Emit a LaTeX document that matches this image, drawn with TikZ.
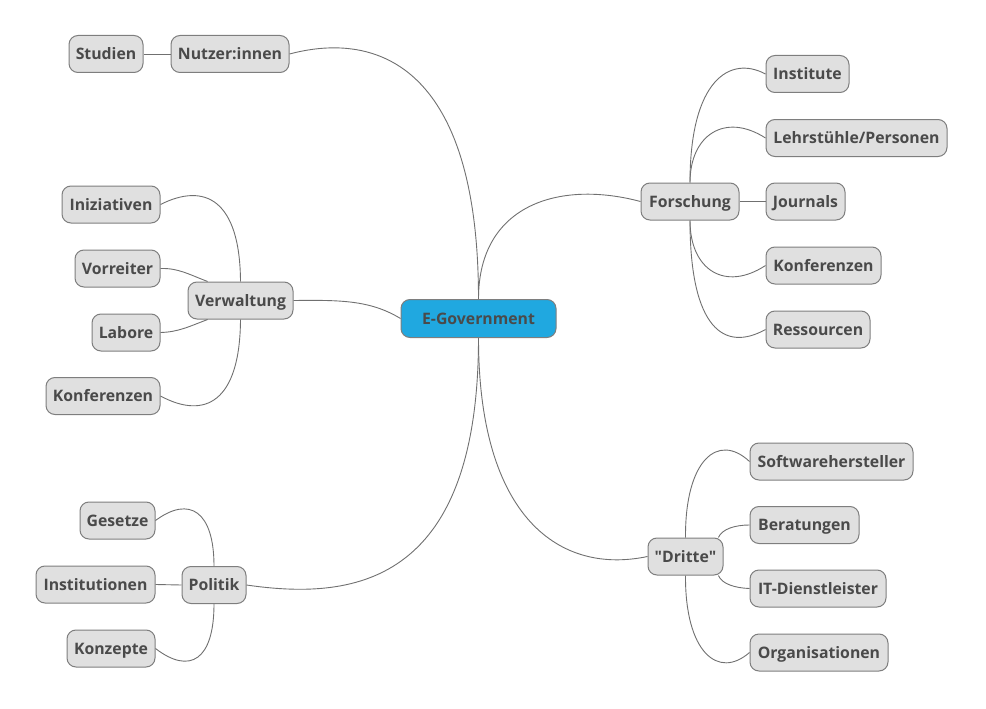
\documentclass[tikz,border=0pt]{standalone}
\usepackage{fontspec}
\setmainfont{Open Sans}
\usetikzlibrary{calc}
\definecolor{boxfill}{HTML}{E0E0E0}
\definecolor{boxline}{HTML}{7E7E7E}
\definecolor{txt}{HTML}{4A4A4A}
\definecolor{wire}{HTML}{707070}
\definecolor{rootfill}{HTML}{20A8E0}
% straight double quote, set as a glyph so no text mapping touches it
\newcommand{\straightquote}{\XeTeXglyph\XeTeXcharglyph"0022\relax}
\begin{document}
\begin{tikzpicture}[x=1pt,y=-1pt,
  topic/.style={draw=boxline,fill=boxfill,line width=1pt,rounded corners=9pt,
    minimum height=37pt,inner sep=0pt,text height=11.3pt,text depth=0pt,
    text=txt,font=\fontsize{15.8}{18}\selectfont\bfseries},
  root/.style={topic,fill=rootfill,minimum height=38pt},
  link/.style={draw=wire,line width=0.9pt}]
\useasboundingbox (0,0) rectangle (986,709);

% central topic
\node[root,minimum width=155pt] (eg) at (478.5,318.5) {E-Government};

% main branches
\node[topic,minimum width=118pt] (nutzer) at (230,54) {Nutzer:innen};
\node[topic,minimum width=98pt] (forsch) at (690,201.5) {Forschung};
\node[topic,minimum width=105pt] (verw) at (240.5,300.5) {Verwaltung};
\node[topic,minimum width=64pt] (pol) at (214,585) {Politik};
\node[topic,minimum width=75pt] (dritte) at (685.5,556.5) {\straightquote Dritte\straightquote};

% Nutzer:innen
\node[topic,minimum width=74pt] (studien) at (106,54) {Studien};

% Forschung
\node[topic,minimum width=83pt] (inst) at (807.5,74) {Institute};
\node[topic,minimum width=181pt] (lehr) at (856.5,138) {Lehrstühle/Personen};
\node[topic,minimum width=79pt] (journ) at (805.5,201.5) {Journals};
\node[topic,minimum width=115pt] (konfr) at (823.5,265.5) {Konferenzen};
\node[topic,minimum width=104pt] (ress) at (818,329.5) {Ressourcen};

% Verwaltung
\node[topic,minimum width=98pt] (iniz) at (111,204.5) {Iniziativen};
\node[topic,minimum width=85pt] (vorr) at (117.5,268.5) {Vorreiter};
\node[topic,minimum width=68pt] (labore) at (126,332.5) {Labore};
\node[topic,minimum width=114pt] (konfl) at (103,396) {Konferenzen};

% Politik
\node[topic,minimum width=75pt] (ges) at (117.5,520.5) {Gesetze};
\node[topic,minimum width=119pt] (instit) at (95.5,584.5) {Institutionen};
\node[topic,minimum width=88pt] (konz) at (111,648.5) {Konzepte};

% "Dritte"
\node[topic,minimum width=163pt] (soft) at (831.5,461.5) {Softwarehersteller};
\node[topic,minimum width=109pt] (berat) at (804.5,525) {Beratungen};
\node[topic,minimum width=136pt] (itd) at (818,588.5) {IT-Dienstleister};
\node[topic,minimum width=138pt] (orga) at (819,652.5) {Organisationen};

% connectors from the central topic
\draw[link] (eg.north) .. controls ($(eg.north)+(0,-230)$) and (380,30) .. (nutzer.east);
\draw[link] (eg.north) .. controls ($(eg.north)+(0,-95)$) and (560,180) .. (forsch.west);
\draw[link] (eg.west) .. controls (370,300) and (340,300) .. (verw.east);
\draw[link] (eg.south) .. controls ($(eg.south)+(0,250)$) and (350,600) .. (pol.east);
\draw[link] (eg.south) .. controls ($(eg.south)+(0,180)$) and (560,575) .. (dritte.west);

% Nutzer:innen
\draw[link] (nutzer.west) -- (studien.east);

% Forschung
\draw[link] (forsch.north) .. controls (690,80) and (730,55) .. (inst.west);
\draw[link] (forsch.north) .. controls (690,135) and (725,112) .. (lehr.west);
\draw[link] (forsch.east) -- (journ.west);
\draw[link] (forsch.south) .. controls (690,270) and (725,292) .. (konfr.west);
\draw[link] (forsch.south) .. controls (690,330) and (725,352) .. (ress.west);

% Verwaltung
\draw[link] (verw.north) .. controls (240,200) and (205,182) .. (iniz.east);
\draw[link] (verw.150) .. controls (188,274) and (178,268) .. (vorr.east);
\draw[link] (verw.210) .. controls (188,327) and (178,332) .. (labore.east);
\draw[link] (verw.south) .. controls (240,402) and (205,420) .. (konfl.east);

% Politik
\draw[link] (pol.north) .. controls (214,512) and (190,495) .. (ges.east);
\draw[link] (pol.west) -- (instit.east);
\draw[link] (pol.south) .. controls (214,660) and (190,675) .. (konz.east);

% "Dritte"
\draw[link] (dritte.north) .. controls (685,460) and (718,432) .. (soft.west);
\draw[link] (dritte.30) .. controls (722,529) and (735,525) .. (berat.west);
\draw[link] (dritte.-30) .. controls (722,584) and (735,588) .. (itd.west);
\draw[link] (dritte.south) .. controls (685,652) and (718,680) .. (orga.west);
\end{tikzpicture}
\end{document}
